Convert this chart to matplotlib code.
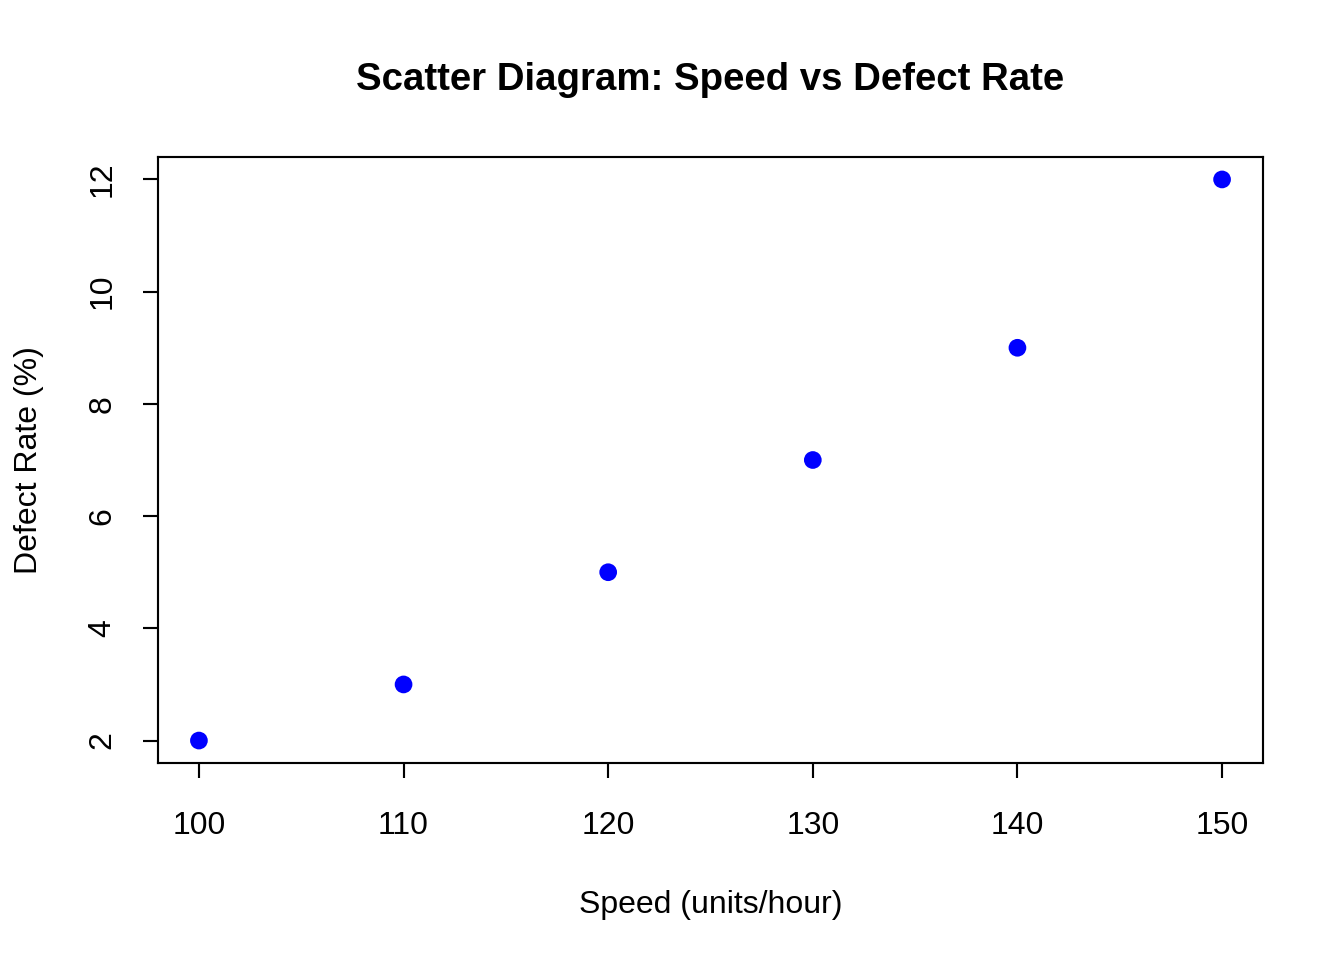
import matplotlib.pyplot as plt

plt.rcParams["font.family"] = ["Liberation Sans", "DejaVu Sans"]

# speed vs defect rate
speed = [100, 110, 120, 130, 140, 150]
defect_rate = [2, 3, 5, 7, 9, 12]

fig = plt.figure(figsize=(7, 5), dpi=192)
ax = fig.add_axes([158 / 1344, 1 - 763 / 960, (1263 - 158) / 1344, (763 - 157) / 960])

ax.scatter(speed, defect_rate, s=44, color="blue", edgecolors="none", zorder=3)

ax.set_xlim(98, 152)
ax.set_ylim(1.6, 12.4)
ax.set_xticks([100, 110, 120, 130, 140, 150])
ax.set_yticks([2, 4, 6, 8, 10, 12])
ax.tick_params(direction="out", length=5.5, width=0.8, labelsize=12)
ax.tick_params(axis="x", pad=12.4)
ax.tick_params(axis="y", pad=9.7)
for lab in ax.get_yticklabels():
    lab.set_rotation(90)
    lab.set_va("center")
for s in ax.spines.values():
    s.set_linewidth(0.8)

ax.set_xlabel("Speed (units/hour)", fontsize=12, labelpad=18.5)
ax.set_ylabel("Defect Rate (%)", fontsize=12, labelpad=16.3)
fig.text(0.5 + (158 + 1263 - 1344) / 2 / 1344, 1 - 80 / 960,
         "Scatter Diagram: Speed vs Defect Rate",
         ha="center", va="center", fontsize=14.4, fontweight="bold")

fig.savefig("out.png", dpi=192)
plt.close(fig)
